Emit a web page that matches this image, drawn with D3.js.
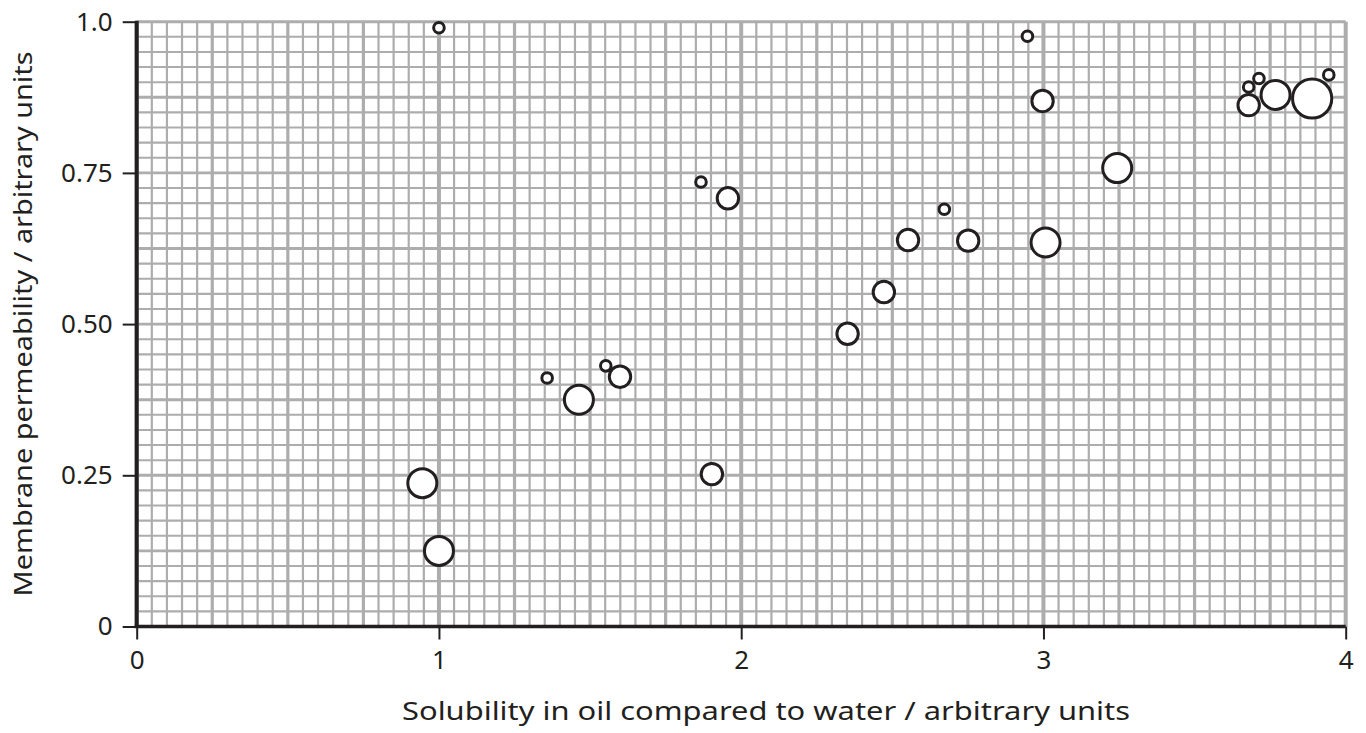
<!DOCTYPE html>
<html>
<head>
<meta charset="utf-8">
<script src="https://cdn.jsdelivr.net/npm/d3@7"></script>
<style>
  html, body { margin: 0; padding: 0; background: #fff; }
  svg { display: block; }
  text { font-family: "Noto Sans", "Open Sans", sans-serif; fill: #231f20; }
</style>
</head>
<body>
<svg id="chart" width="1366" height="733"></svg>
<script>
// ---- data ----
const solubility = [1.0, 2.947, 2.997, 3.244, 3.944, 3.679, 3.713, 3.679, 3.768, 3.889,
                    1.867, 1.956, 2.672, 2.552, 2.751, 3.007, 2.472, 2.352, 1.903,
                    0.945, 1.0, 1.358, 1.463, 1.552, 1.599];
const permeability = [0.99, 0.976, 0.869, 0.758, 0.912, 0.892, 0.906, 0.862, 0.879, 0.873,
                      0.735, 0.708, 0.690, 0.639, 0.638, 0.635, 0.553, 0.484, 0.252,
                      0.237, 0.125, 0.411, 0.375, 0.431, 0.413];
const sizeClass = [1, 1, 2, 3, 1, 1, 1, 2, 3, 4,
                   1, 2, 1, 2, 2, 3, 2, 2, 2,
                   3, 3, 1, 3, 1, 2];
const xTicks = [0, 1, 2, 3, 4];
const yTicks = [0, 0.25, 0.5, 0.75, 1.0];
const yTickLabels = ["0", "0.25", "0.50", "0.75", "1.0"];
const xTitle = "Solubility in oil compared to water / arbitrary units";
const yTitle = "Membrane permeability / arbitrary units";

const points = solubility.map((s, i) => ({ x: s, y: permeability[i], c: sizeClass[i] }));

// ---- layout ----
const svg = d3.select("#chart");
const x = d3.scaleLinear().domain([0, 4]).range([136.7, 1345.7]);
const y = d3.scaleLinear().domain([0, 1]).range([626.5, 21.7]);
const r = d3.scaleOrdinal().domain([1, 2, 3, 4]).range([5.3, 10.7, 14.5, 19.6]);
const ink = "#231f20";
const gridColor = "#adadad";

const near = (v, step) => Math.abs(v / step - Math.round(v / step)) < 1e-6;

// grid
const grid = svg.append("g");
const vx = d3.range(0, 81).map(i => i * 0.05);
grid.selectAll("line.v").data(vx).join("line")
  .attr("x1", d => x(d)).attr("x2", d => x(d))
  .attr("y1", y(1)).attr("y2", y(0))
  .attr("stroke", gridColor)
  .attr("stroke-width", d => near(d, 1) ? 4 : near(d, 0.25) ? 3.2 : 2.2);
const hy = d3.range(0, 41).map(i => i * 0.025);
grid.selectAll("line.h").data(hy).join("line")
  .attr("y1", d => y(d)).attr("y2", d => y(d))
  .attr("x1", x(0)).attr("x2", x(4))
  .attr("stroke", gridColor)
  .attr("stroke-width", d => near(d, 0.125) ? 2.9 : 2.1);

// axes
const xAxis = d3.axisBottom(x).tickValues(xTicks).tickFormat(d3.format("d"))
  .tickSize(13).tickPadding(11);
const gx = svg.append("g").attr("transform", `translate(0,${y(0)})`).call(xAxis);
gx.select(".domain").remove();
gx.selectAll(".tick line").attr("stroke", ink).attr("stroke-width", 2);
gx.selectAll(".tick text").attr("font-size", 26).style("font-family", '"Noto Sans", sans-serif').attr("fill", ink);

const yAxis = d3.axisLeft(y).tickValues(yTicks).tickFormat((d, i) => yTickLabels[i])
  .tickSize(14).tickPadding(10);
const gy = svg.append("g").attr("transform", `translate(${x(0)},0)`).call(yAxis);
gy.select(".domain").remove();
gy.selectAll(".tick line").attr("stroke", ink).attr("stroke-width", 2);
gy.selectAll(".tick text").attr("font-size", 26).style("font-family", '"Noto Sans", sans-serif').attr("fill", ink);

// axis lines
svg.append("line").attr("x1", x(0)).attr("x2", x(0)).attr("y1", y(1) - 1).attr("y2", y(0) + 1.5)
  .attr("stroke", ink).attr("stroke-width", 4);
svg.append("line").attr("x1", x(0) - 2).attr("x2", x(4)).attr("y1", y(0)).attr("y2", y(0))
  .attr("stroke", ink).attr("stroke-width", 3.6);

// points
svg.append("g").selectAll("circle").data(points).join("circle")
  .attr("cx", d => x(d.x)).attr("cy", d => y(d.y)).attr("r", d => r(d.c))
  .attr("fill", "#fff").attr("stroke", ink).attr("stroke-width", 3);

// titles
svg.append("text").attr("x", 766).attr("y", 720).attr("text-anchor", "middle")
  .attr("font-size", 25).attr("textLength", 728).attr("lengthAdjust", "spacingAndGlyphs")
  .text(xTitle);
svg.append("text").attr("transform", "translate(32,324) rotate(-90)").attr("text-anchor", "middle")
  .attr("font-size", 25).attr("textLength", 545).attr("lengthAdjust", "spacingAndGlyphs")
  .text(yTitle);
</script>
</body>
</html>
